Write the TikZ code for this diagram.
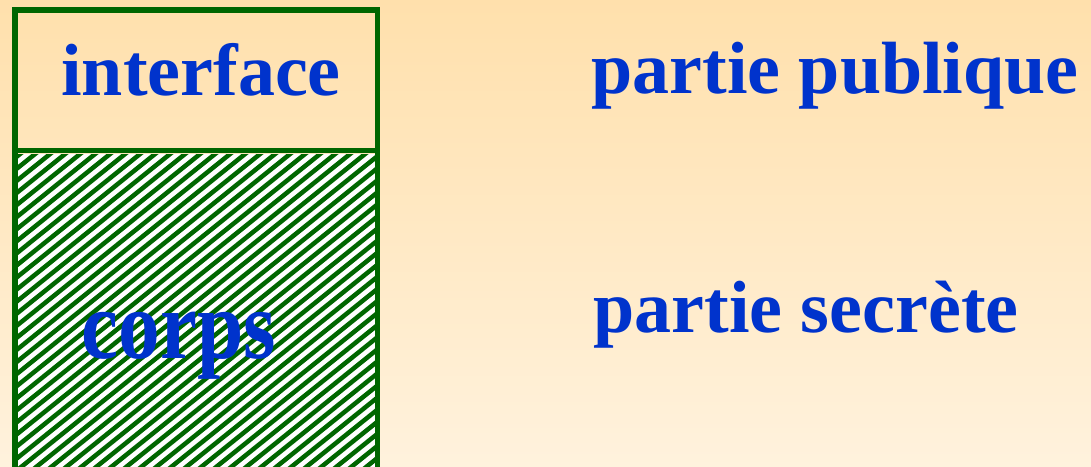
\documentclass[tikz,border=0pt]{standalone}
\usepackage{fontspec}
\usepackage{graphicx}
\setmainfont{Liberation Serif}
\definecolor{bgtop}{RGB}{255,224,172}
\definecolor{bgbot}{RGB}{255,242,221}
\definecolor{boxgreen}{RGB}{0,102,0}
\definecolor{txtblue}{RGB}{0,51,204}
\tikzset{
  bigtext/.style={font=\fontsize{74}{80}\selectfont\bfseries, text=txtblue, anchor=base, inner sep=0pt},
  hatchline/.style={boxgreen, line width=4.5pt},
  frame/.style={boxgreen, line width=5.5pt}
}
\begin{document}
\begin{tikzpicture}[x=1pt,y=-1pt]
            \useasboundingbox (0,0) rectangle (1091,466);
            \clip (0,0) rectangle (1091,466);
            \shade [top color=bgtop, bottom color=bgbot] (0,0) rectangle (1091,466);
            % corps: hachures
            \fill [white] (17,154) rectangle (375,470);
            \begin{scope}
              \clip (17,154) rectangle (375,470);
              \foreach \i in {0,...,56}
                \draw [hatchline] (\i*15-430,480) -- ++(410,-330);
            \end{scope}
            % cadre
            \draw [frame] (14.75,9.75) rectangle (377.25,480);
            \draw [frame] (12,150.5) -- (380,150.5);
            % textes
            \node [bigtext] (interface) at (201,95) {interface};
            \node [bigtext] (publique) at (835,93) {partie publique};
            \node [bigtext] (corps) at (179,358) {\fontsize{98}{100}\selectfont\scalebox{0.85}[1]{corps}};
            \node [bigtext] (secrete) at (806,332) {partie secrète};
        \end{tikzpicture}
\end{document}
